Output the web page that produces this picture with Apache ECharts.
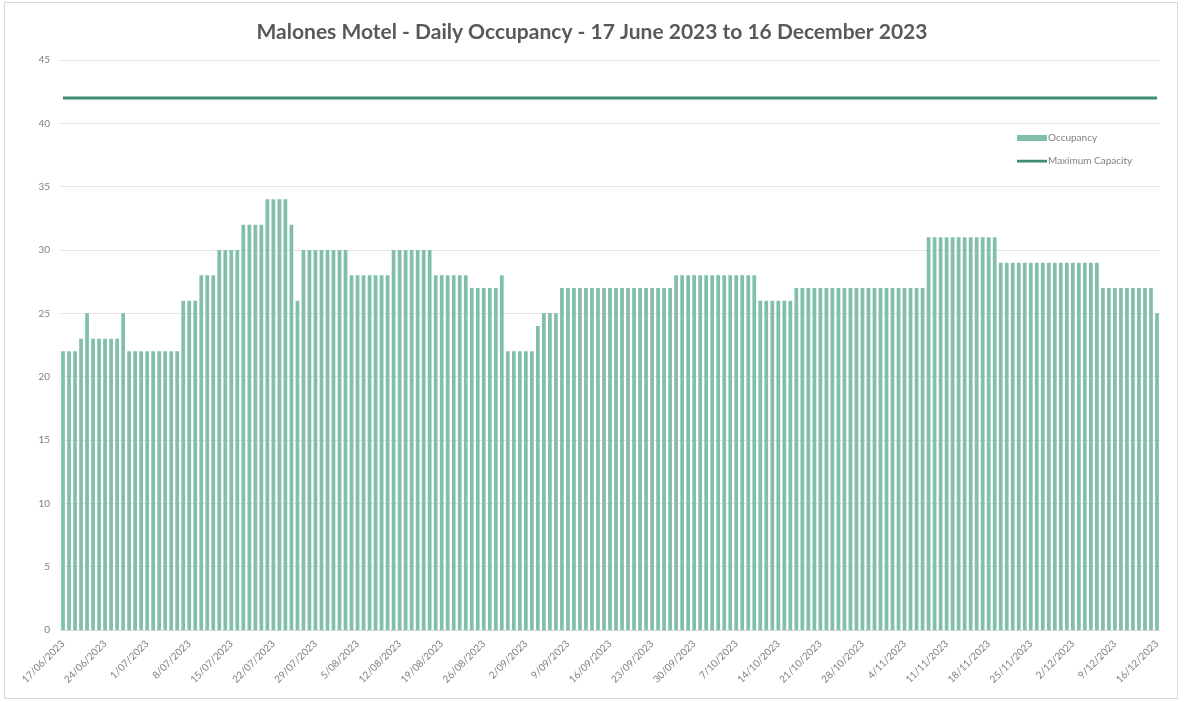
<!DOCTYPE html>
<html>
<head>
<meta charset="utf-8">
<title>Malones Motel - Daily Occupancy</title>
<script src="https://cdn.jsdelivr.net/npm/echarts@6/dist/echarts.min.js"></script>
<style>
    html, body { margin: 0; padding: 0; background: #fff; }
    #frame {
        position: absolute; left: 4px; top: 2px; width: 1174px; height: 697px;
        border: 1px solid #d9d9d9; box-sizing: border-box;
    }
    #occupancyChart { position: absolute; left: 0; top: 0; width: 1184px; height: 702px; }
</style>
</head>
<body>
<div id="frame"></div>
<div id="occupancyChart"></div>
<script>
// 入住数据 17/06/2023 - 16/12/2023, 一行一周
var occupancy = [
    22, 22, 22, 23, 25, 23, 23,
    23, 23, 23, 25, 22, 22, 22,
    22, 22, 22, 22, 22, 22, 26,
    26, 26, 28, 28, 28, 30, 30,
    30, 30, 32, 32, 32, 32, 34,
    34, 34, 34, 32, 26, 30, 30,
    30, 30, 30, 30, 30, 30, 28,
    28, 28, 28, 28, 28, 28, 30,
    30, 30, 30, 30, 30, 30, 28,
    28, 28, 28, 28, 28, 27, 27,
    27, 27, 27, 28, 22, 22, 22,
    22, 22, 24, 25, 25, 25, 27,
    27, 27, 27, 27, 27, 27, 27,
    27, 27, 27, 27, 27, 27, 27,
    27, 27, 27, 27, 28, 28, 28,
    28, 28, 28, 28, 28, 28, 28,
    28, 28, 28, 28, 26, 26, 26,
    26, 26, 26, 27, 27, 27, 27,
    27, 27, 27, 27, 27, 27, 27,
    27, 27, 27, 27, 27, 27, 27,
    27, 27, 27, 27, 31, 31, 31,
    31, 31, 31, 31, 31, 31, 31,
    31, 31, 29, 29, 29, 29, 29,
    29, 29, 29, 29, 29, 29, 29,
    29, 29, 29, 29, 29, 27, 27,
    27, 27, 27, 27, 27, 27, 27,
    25
];
var maxCapacity = 42;
var yTicks = [0, 5, 10, 15, 20, 25, 30, 35, 40, 45];
var seriesNames = ['Occupancy', 'Maximum Capacity'];

// 日期类目 (d/mm/yyyy)
var dates = [];
var start = new Date(2023, 5, 17);
for (var i = 0; i < occupancy.length; i++) {
    var d = new Date(start.getFullYear(), start.getMonth(), start.getDate() + i);
    var m = d.getMonth() + 1;
    dates.push(d.getDate() + '/' + (m < 10 ? '0' + m : m) + '/' + d.getFullYear());
}
var capacityLine = [];
for (var c = 0; c < dates.length; c++) {
    capacityLine.push(maxCapacity);
}

var myChart = echarts.init(document.getElementById('occupancyChart'));
var option = {
    animation: false,
    textStyle: { fontFamily: 'Lato, "Open Sans", sans-serif' },
    title: {
        text: 'Malones Motel - Daily Occupancy - 17 June 2023 to 16 December 2023',
        left: 'center',
        top: 17,
        textStyle: { fontSize: 21, fontWeight: 'bold', color: '#595959', fontFamily: 'Lato, sans-serif' }
    },
    legend: {
        orient: 'vertical',
        left: 1012,
        top: 128,
        itemGap: 13,
        itemWidth: 30,
        itemHeight: 6,
        textStyle: { fontSize: 10, color: '#7f7f7f', padding: [0, 0, 0, -4] },
        data: [
            { name: seriesNames[0], icon: 'rect' },
            { name: seriesNames[1], icon: 'path://M0,0h0.01v6h-0.01z M0,1.8h30v2.6h-30z' }
        ]
    },
    grid: { left: 60, right: 24, top: 60, bottom: 72 },
    xAxis: {
        type: 'category',
        data: dates,
        axisTick: { show: false },
        axisLine: { lineStyle: { color: '#d9d9d9' } },
        axisLabel: {
            interval: 6,
            rotate: 45,
            fontSize: 10,
            color: '#7f7f7f',
            margin: 12
        }
    },
    yAxis: {
        type: 'value',
        min: yTicks[0],
        max: yTicks[yTicks.length - 1],
        interval: 5,
        axisLine: { show: false },
        axisTick: { show: false },
        axisLabel: { fontSize: 10, color: '#7f7f7f', margin: 10 },
        splitLine: { lineStyle: { color: '#e3e3e3', width: 1 } }
    },
    series: [
        {
            name: seriesNames[0],
            type: 'bar',
            data: occupancy,
            barCategoryGap: '38%',
            itemStyle: { color: '#82bfa9' }
        },
        {
            name: seriesNames[1],
            type: 'line',
            data: capacityLine,
            symbol: 'none',
            lineStyle: { color: '#3f8d6e', width: 3 },
            itemStyle: { color: '#3f8d6e' }
        }
    ]
};
myChart.setOption(option);
</script>
</body>
</html>
